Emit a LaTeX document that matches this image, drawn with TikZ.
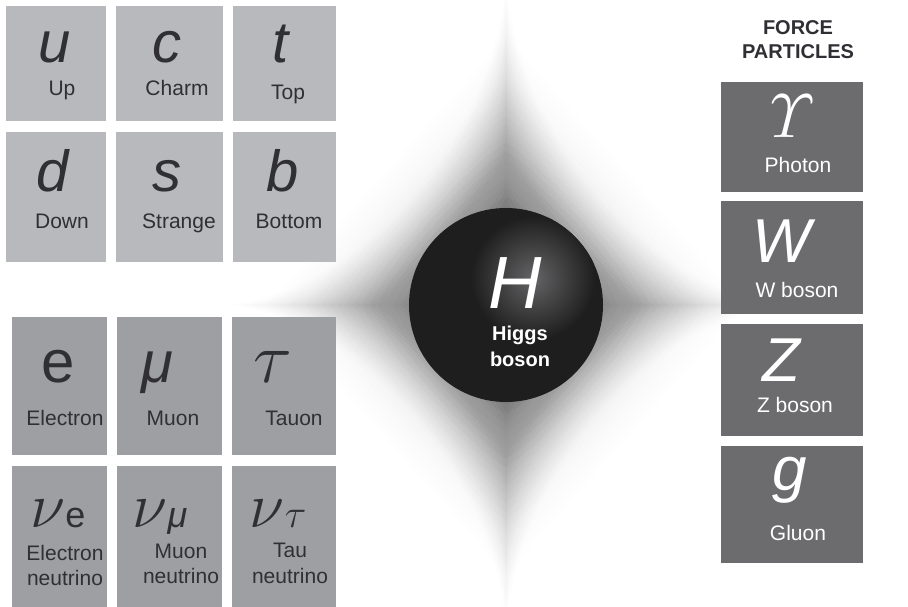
\RequirePackage{fix-cm}
\documentclass[tikz,border=0pt]{standalone}
\usepackage{amsmath}
\usepackage{fontspec}
\setmainfont{Liberation Sans}
\definecolor{quarkc}{RGB}{184,185,189}
\definecolor{leptonc}{RGB}{158,159,163}
\definecolor{forcec}{RGB}{108,108,110}
\definecolor{inkc}{RGB}{48,48,52}
\definecolor{higgsc}{RGB}{30,30,30}
\definecolor{higgshi}{RGB}{100,100,102}
\tikzset{
  qbox/.style={fill=quarkc},
  lbox/.style={fill=leptonc},
  fbox/.style={fill=forcec},
  sym/.style={anchor=base, inner sep=0pt, text=inkc, font=\fontsize{58}{60}\selectfont\itshape},
  gsym/.style={anchor=base, inner sep=0pt, text=inkc, font=\fontsize{68}{70}\selectfont},
  fsym/.style={anchor=base, inner sep=0pt, text=white, font=\fontsize{62}{64}\selectfont\itshape},
  lab/.style={anchor=base, inner sep=0pt, text=inkc, font=\fontsize{21}{24}\selectfont},
  flab/.style={anchor=base, inner sep=0pt, text=white, font=\fontsize{21}{24}\selectfont},
  head/.style={anchor=base, inner sep=0pt, text=inkc, font=\fontsize{20}{22}\selectfont\bfseries},
  hlab/.style={anchor=base, inner sep=0pt, text=white, font=\fontsize{20}{22}\selectfont\bfseries},
}
\begin{document}
\begin{tikzpicture}[x=1pt,y=-1pt]
\useasboundingbox (0,0) rectangle (908,607);
\clip (0,0) rectangle (908,607);
\fill[white] (0,0) rectangle (908,607);
% glow: soft body
\foreach \i in {1,...,30}{
  \pgfmathsetmacro{\s}{\i/30}
  \pgfmathsetmacro{\e}{1.3+0.7*\s}
  \pgfmathsetmacro{\op}{0.018*(1-\s)+0.003}
  \fill[black, opacity=\op] plot[domain=0.5:360.5, samples=100]
    ({506+\s*240*cos(\x)*abs(cos(\x))^(\e-1)}, {305+\s*270*sin(\x)*abs(sin(\x))^(\e-1)}) -- cycle;
}
% glow: spikes
\foreach \i in {1,...,40}{
  \pgfmathsetmacro{\s}{\i/40}
  \pgfmathsetmacro{\e}{1.8+1.4*\s}
  \pgfmathsetmacro{\op}{0.03*(1-\s)+0.005}
  \fill[black, opacity=\op] plot[domain=0.5:360.5, samples=120]
    ({506+\s*285*cos(\x)*abs(cos(\x))^(\e-1)}, {305+\s*330*sin(\x)*abs(sin(\x))^(\e-1)}) -- cycle;
}
% quark boxes
\fill[qbox] (6,6) rectangle (106,121);
\fill[qbox] (116,6) rectangle (223,121);
\fill[qbox] (233,6) rectangle (336,121);
\fill[qbox] (6,132) rectangle (106,262);
\fill[qbox] (116,132) rectangle (223,262);
\fill[qbox] (233,132) rectangle (336,262);
% lepton boxes
\fill[lbox] (12,317) rectangle (107,455);
\fill[lbox] (117,317) rectangle (222,455);
\fill[lbox] (232,317) rectangle (336,455);
\fill[lbox] (12,466) rectangle (107,612);
\fill[lbox] (117,466) rectangle (222,612);
\fill[lbox] (232,466) rectangle (336,612);
% force boxes
\fill[fbox] (721,82) rectangle (863,192);
\fill[fbox] (721,201) rectangle (863,314);
\fill[fbox] (721,324) rectangle (863,436);
\fill[fbox] (721,446) rectangle (863,563);
% quark text
\node[sym] (su) at (55,63) {u};
\node[sym] (sc) at (167,63) {c};
\node[sym] (st) at (281,63) {t};
\node[lab] (lu) at (62,96) {Up};
\node[lab] (lc) at (177,96) {Charm};
\node[lab] (lt) at (288,100) {Top};
\node[sym] (sd) at (53,192) {d};
\node[sym] (ss) at (167,192) {s};
\node[sym] (sb) at (283,192) {b};
\node[lab] (ld) at (62,228) {Down};
\node[lab] (ls) at (179,228) {Strange};
\node[lab] (lb) at (289,228) {Bottom};
% leptons
\node[sym, font=\fontsize{60}{62}\selectfont] (se) at (58,382) {e};
\node[sym] (smu) at (157,382) {μ};
\node[gsym, font=\fontsize{72}{74}\selectfont] (stau) at (273,382) {$\tau$};
\node[lab] (le) at (65,425) {Electron};
\node[lab] (lmu) at (173,425) {Muon};
\node[lab] (ltau) at (294,425) {Tauon};
\node[gsym, font=\fontsize{64}{66}\selectfont] (sne) at (58,527) {$\nu$\fontsize{36}{38}\selectfont e};
\node[gsym, font=\fontsize{64}{66}\selectfont] (snm) at (160,527) {$\nu$\fontsize{36}{38}\selectfont\itshape μ};
\node[gsym, font=\fontsize{64}{66}\selectfont] (snt) at (278,527) {$\nu$\fontsize{40}{42}\selectfont$\tau$};
\node[lab] (lne1) at (65,560) {Electron};
\node[lab] (lne2) at (65,585) {neutrino};
\node[lab] (lnm1) at (181,558) {Muon};
\node[lab] (lnm2) at (181,583) {neutrino};
\node[lab] (lnt1) at (290,557) {Tau};
\node[lab] (lnt2) at (290,583) {neutrino};
% force particles
\node[head] (h1) at (798,35) {FORCE};
\node[head] (h2) at (798,59) {PARTICLES};
\node[fsym, font=\fontsize{62}{64}\selectfont] (sg) at (792,138) {$\varUpsilon$};
\node[flab] (lg) at (798,173) {Photon};
\node[fsym] (sw) at (782,262) {W};
\node[flab] (lw) at (797,297) {W boson};
\node[fsym] (sz) at (781,381) {Z};
\node[flab] (lz) at (795,412) {Z boson};
\node[fsym] (sgl) at (790,490) {g};
\node[flab] (lgl) at (798,540) {Gluon};
% Higgs
\fill[higgsc] (506,305) circle[radius=97];
\begin{scope}
  \clip (506,305) circle[radius=97];
  \shade[inner color=higgshi, outer color=higgsc] (533,278) circle[radius=62];
\end{scope}
\node[fsym, font=\fontsize{74}{76}\selectfont\itshape] (sh) at (515,308) {H};
\node[hlab] (lh1) at (520,340) {Higgs};
\node[hlab] (lh2) at (520,366) {boson};
\end{tikzpicture}
\end{document}
